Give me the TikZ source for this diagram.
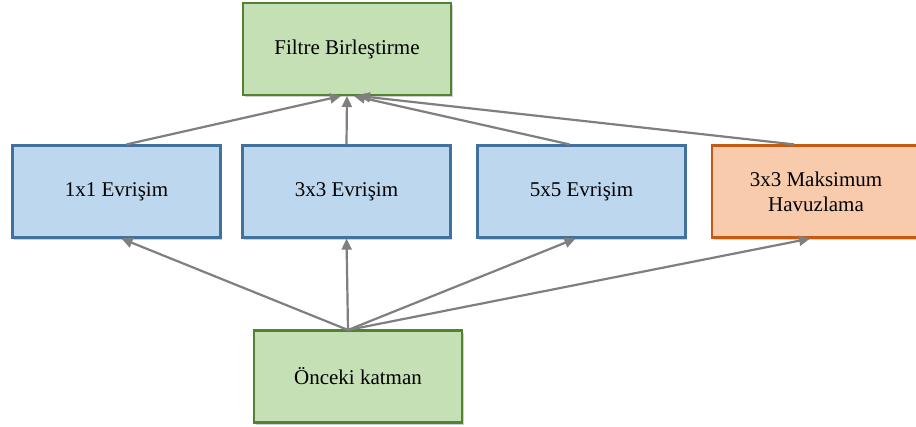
\documentclass[tikz,border=0pt]{standalone}
\usepackage{fontspec}
\setmainfont{Liberation Serif}
\usetikzlibrary{arrows.meta,shadows}
\definecolor{greenfill}{HTML}{C5E0B4}
\definecolor{greenline}{HTML}{548235}
\definecolor{bluefill}{HTML}{BDD7EE}
\definecolor{blueline}{HTML}{41719C}
\definecolor{orangefill}{HTML}{F8CBAD}
\definecolor{orangeline}{HTML}{C55A11}
\definecolor{arrowgrey}{HTML}{7F7F7F}
\tikzset{
  block/.style={rectangle, line width=2.2pt, minimum width=208pt, minimum height=92pt,
    align=center, inner sep=0pt, font=\fontsize{21}{25}\selectfont,
    drop shadow={shadow xshift=1.5pt, shadow yshift=-2.5pt, opacity=.3, fill=black!60}},
  greenbox/.style={block, draw=greenline, fill=greenfill},
  bluebox/.style={block, draw=blueline, fill=bluefill},
  orangebox/.style={block, draw=orangeline, fill=orangefill},
  link/.style={draw=arrowgrey, line width=2.2pt, -{Triangle[length=11pt,width=10pt]}}
}
\begin{document}
\begin{tikzpicture}[x=1pt,y=-1pt]
\useasboundingbox (0,0) rectangle (916,427);
\clip (0,0) rectangle (916,427);
\fill[white] (0,0) rectangle (916,427);

% layer nodes
\node[greenbox] (concat) at (347,49) {Filtre Birleştirme};
\node[bluebox] (c1) at (116.5,191.5) {1x1 Evrişim};
\node[bluebox] (c3) at (346.5,191.5) {3x3 Evrişim};
\node[bluebox] (c5) at (581.5,191.5) {5x5 Evrişim};
\node[orangebox] (pool) at (816,191.5) {3x3 Maksimum\\Havuzlama};
\node[greenbox] (prev) at (358,376.5) {Önceki katman};

% points where the branch outputs meet the concatenation block
\coordinate (t1) at (341,96);
\coordinate (t3) at (347,96);
\coordinate (t5) at (354,96);
\coordinate (tp) at (359,96);

% outputs of the branches into the concatenation block
\draw[link] ([xshift=10pt]c1.north) -- (t1);
\draw[link] (c3.north) -- (t3);
\draw[link] ([xshift=-12pt]c5.north) -- (t5);
\draw[link] ([xshift=-22pt]pool.north) -- (tp);

% input layer feeding every branch
\coordinate (src) at (348,330);
\draw[link] (src) -- ([xshift=5pt]c1.south);
\draw[link] (src) -- (c3.south);
\draw[link] (src) -- ([xshift=-6pt]c5.south);
\draw[link] (src) -- ([xshift=-6pt]pool.south);
\end{tikzpicture}
\end{document}
